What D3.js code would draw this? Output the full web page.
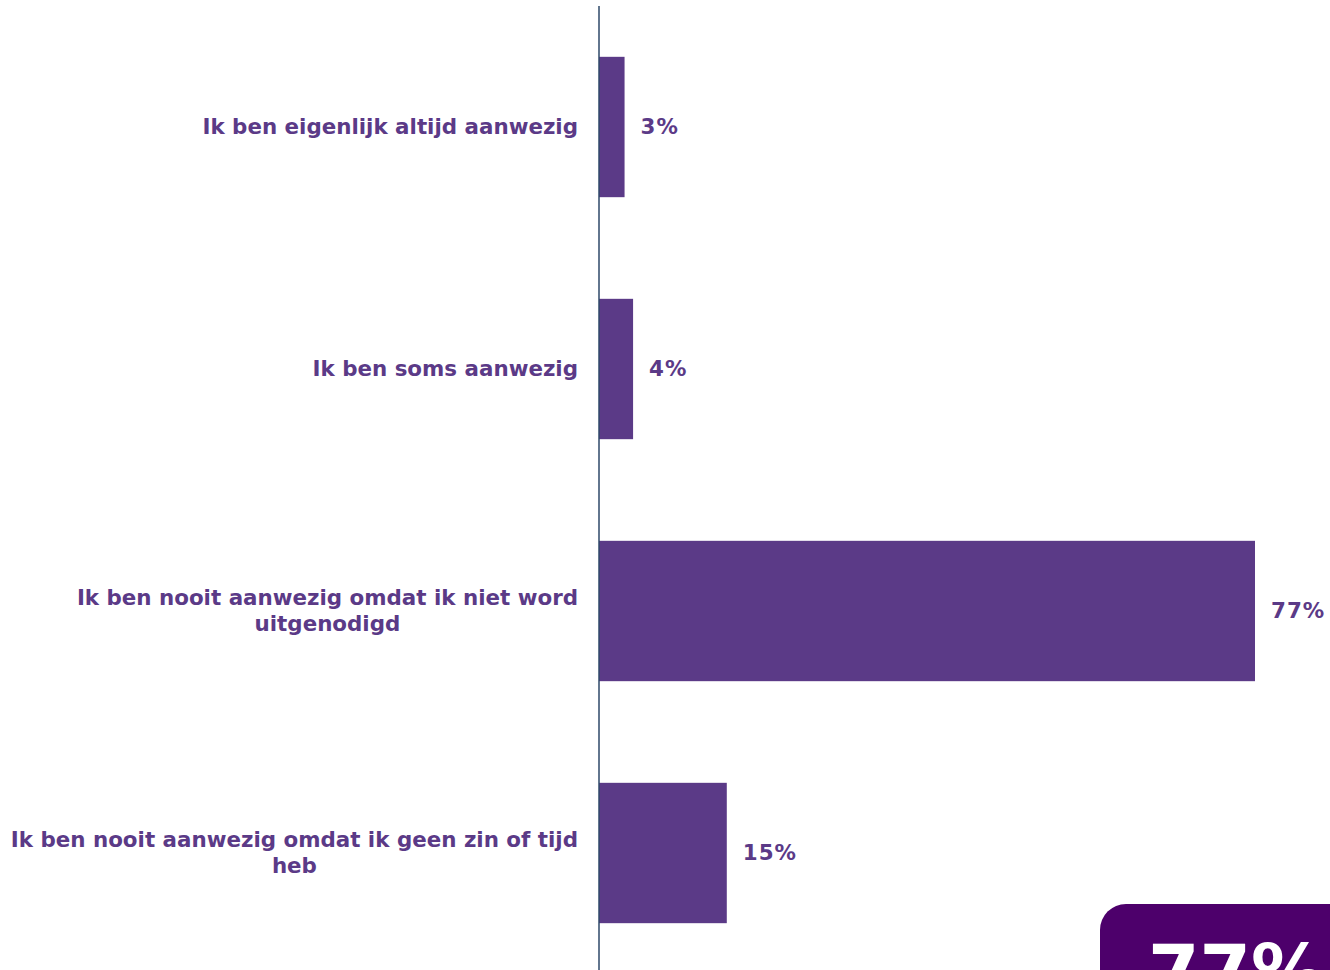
<!DOCTYPE html>
<html>
<head>
<meta charset="utf-8">
<script src="https://cdn.jsdelivr.net/npm/d3@7"></script>
<style>
  html, body { margin: 0; padding: 0; background: #fff; overflow: hidden; }
  svg { display: block; }
</style>
</head>
<body>
<svg id="chart" width="1330" height="970"></svg>
<script>
// Answer categories (each entry is the list of lines of the label)
const categories = [
  ["Ik ben eigenlijk altijd aanwezig"],
  ["Ik ben soms aanwezig"],
  ["Ik ben nooit aanwezig omdat ik niet word", "uitgenodigd"],
  ["Ik ben nooit aanwezig omdat ik geen zin of tijd", "heb"]
];
// Share of respondents, in percent
const values = [3, 4, 77, 15];
// Highlighted figure in the corner badge
const highlight = "77%";

const W = 1330, H = 970;
const axisX = 599;
const purple = "#5b3a87";
const font = "'DejaVu Sans', Verdana, sans-serif";
const labelSize = 21.4;

const svg = d3.select("#chart");

const x = d3.scaleLinear().domain([0, 77]).range([axisX, 1255]);
const y = d3.scaleBand()
  .domain(d3.range(categories.length))
  .range([6, 974])
  .paddingInner(0.42)
  .paddingOuter(0.21);

// Bars
svg.append("g").selectAll("rect")
  .data(values)
  .join("rect")
  .attr("x", x(0))
  .attr("y", (d, i) => y(i))
  .attr("width", d => x(d) - x(0))
  .attr("height", y.bandwidth())
  .attr("fill", purple);

// Vertical category axis line
svg.append("line")
  .attr("x1", axisX).attr("x2", axisX)
  .attr("y1", 6).attr("y2", H)
  .attr("stroke", "#2e4868")
  .attr("stroke-width", 1.5);

// Category labels: block right-aligned to the axis, lines centred within it
const lineH = 26;
const cats = svg.append("g").selectAll("text")
  .data(categories)
  .join("text")
  .attr("text-anchor", "middle")
  .attr("font-family", font)
  .attr("font-weight", "bold")
  .attr("font-size", labelSize)
  .attr("fill", purple)
  .attr("y", (d, i) => y(i) + y.bandwidth() / 2 - (d.length - 1) * lineH / 2);

cats.each(function(lines) {
  const t = d3.select(this);
  lines.forEach((s, k) => {
    t.append("tspan")
      .attr("x", 0)
      .attr("dy", k === 0 ? "0.35em" : lineH)
      .text(s);
  });
  const widths = [];
  t.selectAll("tspan").each(function() { widths.push(this.getComputedTextLength()); });
  const maxW = d3.max(widths);
  t.selectAll("tspan").attr("x", 578 - maxW / 2);
});

// Value labels at the end of each bar
svg.append("g").selectAll("text")
  .data(values)
  .join("text")
  .attr("x", d => x(d) + 16)
  .attr("y", (d, i) => y(i) + y.bandwidth() / 2)
  .attr("dy", "0.35em")
  .attr("font-family", font)
  .attr("font-weight", "bold")
  .attr("font-size", labelSize)
  .attr("letter-spacing", 1)
  .attr("fill", purple)
  .text(d => d + "%");

// Corner badge with the headline figure
const badge = svg.append("g");
badge.append("rect")
  .attr("x", 1100).attr("y", 904)
  .attr("width", 300).attr("height", 200)
  .attr("rx", 26)
  .attr("fill", "#4d006b");
badge.append("text")
  .attr("x", 1148).attr("y", 998)
  .attr("font-family", font)
  .attr("font-weight", "bold")
  .attr("font-size", 74)
  .attr("fill", "#fff")
  .text(highlight);
</script>
</body>
</html>
